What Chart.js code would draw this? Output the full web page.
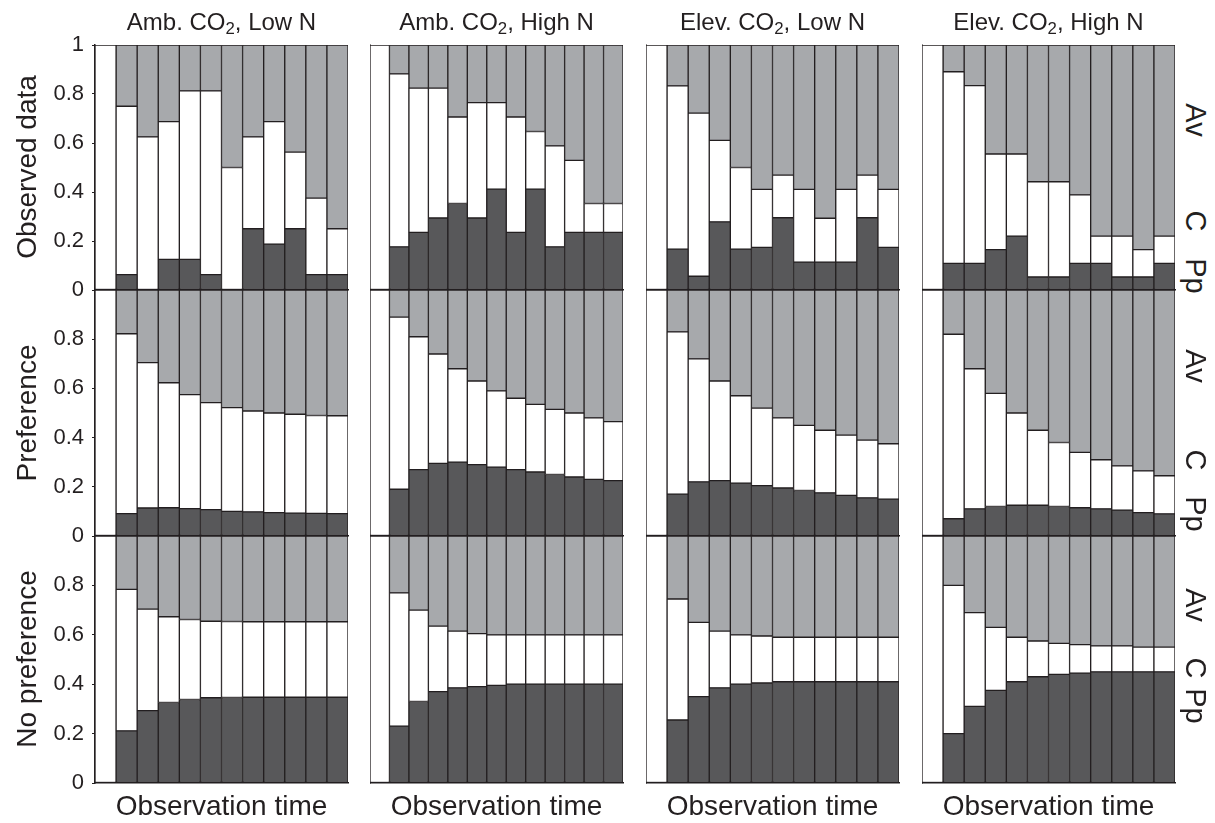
<!DOCTYPE html>
<html>
<head>
<meta charset="utf-8">
<title>Observation time</title>
<script src="https://cdn.jsdelivr.net/npm/chart.js@4.4.1/dist/chart.umd.min.js"></script>
<style>
    body { margin: 0; background: #fff; font-family: "Liberation Sans", Arial, sans-serif; color: #231f20; }
    #figura { position: relative; width: 1215px; height: 823px; overflow: hidden; }
    #figura canvas { position: absolute; }
    .texto { position: absolute; white-space: nowrap; line-height: 1; }
    .titulo { font-size: 24px; transform: translate(-50%, -50%); }
    .xlabel { font-size: 28px; transform: translate(-50%, -50%); }
    .fila { font-size: 28px; transform: translate(-50%, -50%) rotate(-90deg); }
    .serie { font-size: 29px; transform: translate(-50%, -50%) rotate(90deg); }
    sub { font-size: 0.7em; vertical-align: -0.25em; line-height: 0; }
</style>
</head>
<body>
<div id="figura"></div>
<script>
// categorias: tiempos de observacion (el primero es el estado inicial)
var timesA = [0, 1, 2, 3, 4, 5, 6, 7, 8, 9, 10, 11];
var timesB = [0, 1, 2, 3, 4, 5, 6, 7, 8, 9, 10, 11, 12];

var yTickLabels = ['0', '0.2', '0.4', '0.6', '0.8', '1'];
var titulos = ['Amb. CO<sub>2</sub>, Low N', 'Amb. CO<sub>2</sub>, High N', 'Elev. CO<sub>2</sub>, Low N', 'Elev. CO<sub>2</sub>, High N'];
var filas = ['Observed data', 'Preference', 'No preference'];
var series = ['Pp', 'C', 'Av'];

// Pp = altura de la parte oscura, CTop = limite superior de la parte blanca (Pp + C)
var obsAmbLowPp = [0, 0.0625, 0, 0.125, 0.125, 0.0625, 0, 0.25, 0.1875, 0.25, 0.0625, 0.0625];
var obsAmbLowCTop = [1, 0.75, 0.625, 0.6875, 0.8125, 0.8125, 0.5, 0.625, 0.6875, 0.5625, 0.375, 0.25];
var obsAmbHighPp = [0, 0.176, 0.235, 0.294, 0.353, 0.294, 0.412, 0.235, 0.412, 0.176, 0.235, 0.235, 0.235];
var obsAmbHighCTop = [1, 0.882, 0.824, 0.824, 0.706, 0.765, 0.765, 0.706, 0.647, 0.588, 0.529, 0.353, 0.353];
var obsElevLowPp = [0, 0.167, 0.056, 0.278, 0.167, 0.174, 0.295, 0.114, 0.114, 0.114, 0.295, 0.174];
var obsElevLowCTop = [1, 0.833, 0.722, 0.611, 0.5, 0.411, 0.469, 0.411, 0.293, 0.411, 0.469, 0.411];
var obsElevHighPp = [0, 0.109, 0.109, 0.165, 0.22, 0.053, 0.053, 0.109, 0.109, 0.053, 0.053, 0.109];
var obsElevHighCTop = [1, 0.891, 0.834, 0.555, 0.555, 0.442, 0.442, 0.388, 0.22, 0.22, 0.165, 0.22];

var prefAmbLowPp = [0, 0.091, 0.114, 0.115, 0.111, 0.107, 0.1, 0.098, 0.095, 0.093, 0.092, 0.091];
var prefAmbLowCTop = [1, 0.822, 0.705, 0.623, 0.575, 0.542, 0.522, 0.508, 0.5, 0.495, 0.49, 0.489];
var prefAmbHighPp = [0, 0.19, 0.27, 0.295, 0.3, 0.29, 0.28, 0.27, 0.26, 0.25, 0.24, 0.23, 0.225];
var prefAmbHighCTop = [1, 0.89, 0.81, 0.74, 0.68, 0.63, 0.59, 0.56, 0.535, 0.515, 0.5, 0.48, 0.465];
var prefElevLowPp = [0, 0.17, 0.22, 0.225, 0.215, 0.205, 0.195, 0.185, 0.175, 0.165, 0.155, 0.15];
var prefElevLowCTop = [1, 0.83, 0.72, 0.63, 0.57, 0.52, 0.48, 0.45, 0.43, 0.41, 0.39, 0.375];
var prefElevHighPp = [0, 0.07, 0.11, 0.12, 0.125, 0.125, 0.12, 0.115, 0.11, 0.105, 0.095, 0.09];
var prefElevHighCTop = [1, 0.82, 0.68, 0.58, 0.5, 0.43, 0.38, 0.34, 0.31, 0.285, 0.265, 0.245];

var noprefAmbLowPp = [0, 0.211, 0.293, 0.326, 0.338, 0.345, 0.346, 0.347, 0.347, 0.347, 0.347, 0.347];
var noprefAmbLowCTop = [1, 0.784, 0.704, 0.673, 0.662, 0.655, 0.654, 0.653, 0.653, 0.653, 0.653, 0.653];
var noprefAmbHighPp = [0, 0.23, 0.33, 0.37, 0.385, 0.39, 0.395, 0.4, 0.4, 0.4, 0.4, 0.4, 0.4];
var noprefAmbHighCTop = [1, 0.77, 0.7, 0.635, 0.615, 0.605, 0.6, 0.6, 0.6, 0.6, 0.6, 0.6, 0.6];
var noprefElevLowPp = [0, 0.255, 0.35, 0.385, 0.4, 0.405, 0.41, 0.41, 0.41, 0.41, 0.41, 0.41];
var noprefElevLowCTop = [1, 0.745, 0.65, 0.615, 0.6, 0.595, 0.59, 0.59, 0.59, 0.59, 0.59, 0.59];
var noprefElevHighPp = [0, 0.2, 0.31, 0.375, 0.41, 0.43, 0.44, 0.445, 0.45, 0.45, 0.45, 0.45];
var noprefElevHighCTop = [1, 0.8, 0.69, 0.63, 0.59, 0.575, 0.565, 0.56, 0.555, 0.555, 0.55, 0.55];

var paneles = [
    [{ t: timesA, pp: obsAmbLowPp, cTop: obsAmbLowCTop }, { t: timesB, pp: obsAmbHighPp, cTop: obsAmbHighCTop },
     { t: timesA, pp: obsElevLowPp, cTop: obsElevLowCTop }, { t: timesA, pp: obsElevHighPp, cTop: obsElevHighCTop }],
    [{ t: timesA, pp: prefAmbLowPp, cTop: prefAmbLowCTop }, { t: timesB, pp: prefAmbHighPp, cTop: prefAmbHighCTop },
     { t: timesA, pp: prefElevLowPp, cTop: prefElevLowCTop }, { t: timesA, pp: prefElevHighPp, cTop: prefElevHighCTop }],
    [{ t: timesA, pp: noprefAmbLowPp, cTop: noprefAmbLowCTop }, { t: timesB, pp: noprefAmbHighPp, cTop: noprefAmbHighCTop },
     { t: timesA, pp: noprefElevLowPp, cTop: noprefElevLowCTop }, { t: timesA, pp: noprefElevHighPp, cTop: noprefElevHighCTop }]
];

var colores = { Pp: '#58585a', C: '#ffffff', Av: '#a7a9ac' };
var borde = '#231f20';
var fuente = '"Liberation Sans", Arial, sans-serif';

var colLeft = [95, 370, 646, 922];
var colWidth = 253;
var rowTop = [45, 290, 536];
var rowHeight = [245, 246, 247];
var yAxisWidth = 60;
var padV = 26; // deja sitio a la mitad de la etiqueta del eje y mas su padding

var figura = document.getElementById('figura');

function agregarTexto(clase, html, x, y) {
    var div = document.createElement('div');
    div.className = 'texto ' + clase;
    div.innerHTML = html;
    div.style.left = x + 'px';
    div.style.top = y + 'px';
    figura.appendChild(div);
}

function dibujarPanel(fila, col, panel) {
    var yw = col === 0 ? yAxisWidth : 0;
    var w = colWidth + yw + 4;
    var h = rowHeight[fila] + 2 * padV;
    var canvas = document.createElement('canvas');
    canvas.width = w;
    canvas.height = h;
    canvas.style.left = (colLeft[col] - yw) + 'px';
    canvas.style.top = (rowTop[fila] - padV) + 'px';
    canvas.style.width = w + 'px';
    canvas.style.height = h + 'px';
    figura.appendChild(canvas);

    var valores = {
        Pp: panel.pp,
        C: panel.cTop.map(function (v, i) { return v - panel.pp[i]; }),
        Av: panel.cTop.map(function (v) { return 1 - v; })
    };

    new Chart(canvas.getContext('2d'), {
        type: 'bar',
        data: {
            labels: panel.t,
            datasets: series.map(function (s) {
                return {
                    label: s,
                    data: valores[s],
                    backgroundColor: colores[s],
                    borderColor: borde,
                    borderWidth: 1,
                    borderSkipped: false,
                    categoryPercentage: 1,
                    barPercentage: 1
                };
            })
        },
        options: {
            responsive: false,
            animation: false,
            events: [],
            layout: { padding: { top: padV, bottom: padV, left: 0, right: 4 } },
            plugins: { legend: { display: false }, tooltip: { enabled: false } },
            scales: {
                x: {
                    stacked: true,
                    afterFit: function (s) { s.height = 0; },
                    ticks: { display: false },
                    grid: { display: false, drawTicks: false },
                    border: { display: true, color: borde, width: 1.5 }
                },
                y: {
                    stacked: true,
                    min: 0,
                    max: 1,
                    afterFit: function (s) { s.width = yw; },
                    border: { display: true, color: borde, width: 1.5 },
                    grid: { drawOnChartArea: false, drawTicks: col === 0, tickLength: 3, color: borde },
                    ticks: {
                        display: col === 0,
                        stepSize: 0.2,
                        padding: 8,
                        color: borde,
                        font: { family: fuente, size: 22 },
                        callback: function (v, i) {
                            if (fila > 0 && i === yTickLabels.length - 1) return '';
                            return yTickLabels[i];
                        }
                    }
                }
            }
        }
    });
}

for (var f = 0; f < paneles.length; f++) {
    for (var c = 0; c < paneles[f].length; c++) {
        dibujarPanel(f, c, paneles[f][c]);
    }
}

// titulos de columna y etiqueta del eje x
for (var c = 0; c < titulos.length; c++) {
    var cx = colLeft[c] + colWidth / 2;
    agregarTexto('titulo', titulos[c], cx, 22);
    agregarTexto('xlabel', 'Observation time', cx, 806);
}

// etiquetas de fila a la izquierda
var filaY = [167, 413, 659];
for (var f = 0; f < filas.length; f++) {
    agregarTexto('fila', filas[f], 27, filaY[f]);
}

// nombres de las series a la derecha
var serieY = [[276, 221, 120], [514, 460, 366], [706, 668, 605]];
for (var f = 0; f < serieY.length; f++) {
    for (var s = 0; s < series.length; s++) {
        agregarTexto('serie', series[s], 1195, serieY[f][s]);
    }
}
</script>
</body>
</html>
